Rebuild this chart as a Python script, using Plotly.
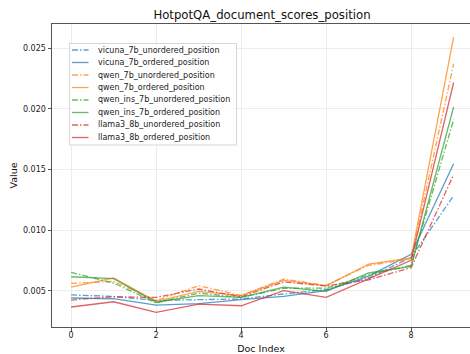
import plotly.graph_objects as go

doc_index = list(range(10))
series_names = [
    "vicuna_7b_unordered_position",
    "vicuna_7b_ordered_position",
    "qwen_7b_unordered_position",
    "qwen_7b_ordered_position",
    "qwen_ins_7b_unordered_position",
    "qwen_ins_7b_ordered_position",
    "llama3_8b_unordered_position",
    "llama3_8b_ordered_position",
]
vicuna_unordered = [0.00465, 0.00453, 0.00420, 0.00426, 0.00432, 0.00473, 0.00510, 0.00605, 0.00775, 0.01283]
vicuna_ordered = [0.00440, 0.00434, 0.00382, 0.00393, 0.00426, 0.00453, 0.00500, 0.00620, 0.00800, 0.01547]
qwen_unordered = [0.00560, 0.00577, 0.00420, 0.00541, 0.00461, 0.00596, 0.00544, 0.00710, 0.00760, 0.02370]
qwen_ordered = [0.00530, 0.00605, 0.00412, 0.00494, 0.00459, 0.00585, 0.00540, 0.00720, 0.00770, 0.02590]
qwen_ins_unordered = [0.00651, 0.00563, 0.00400, 0.00480, 0.00445, 0.00520, 0.00522, 0.00630, 0.00710, 0.01910]
qwen_ins_ordered = [0.00615, 0.00600, 0.00405, 0.00459, 0.00445, 0.00530, 0.00494, 0.00646, 0.00700, 0.02014]
llama_unordered = [0.00423, 0.00450, 0.00445, 0.00514, 0.00450, 0.00572, 0.00540, 0.00590, 0.00690, 0.01456]
llama_ordered = [0.00366, 0.00409, 0.00321, 0.00390, 0.00376, 0.00500, 0.00445, 0.00600, 0.00750, 0.02216]

series_values = [vicuna_unordered, vicuna_ordered, qwen_unordered, qwen_ordered,
                 qwen_ins_unordered, qwen_ins_ordered, llama_unordered, llama_ordered]
colors = ["#1f77b4", "#1f77b4", "#ff7f0e", "#ff7f0e", "#2ca02c", "#2ca02c", "#d62728", "#d62728"]
x_ticks = [0, 2, 4, 6, 8]
y_ticks = [0.005, 0.010, 0.015, 0.020, 0.025]

DASHDOT = "6px,2px,1.5px,2px"

def rgba(h, a):
    h = h.lstrip("#")
    return "rgba(%d,%d,%d,%s)" % (int(h[0:2], 16), int(h[2:4], 16), int(h[4:6], 16), a)

fig = go.Figure()
for name, vals, col in zip(series_names, series_values, colors):
    unordered = "unordered" in name
    fig.add_trace(go.Scatter(
        x=doc_index, y=vals, mode="lines", name=name, showlegend=False,
        line=dict(color=rgba(col, 0.72), width=1.3, dash=DASHDOT if unordered else "solid"),
    ))

W, H = 470, 354
L, R, T, B = 52, 0, 24, 27
font = "DejaVu Sans"

# custom legend (pixel -> paper coords)
pw, ph = W - L - R, H - T - B
def px(x):
    return (x - L) / pw
def py(y):
    return 1 - (y - T) / ph

shapes = [dict(type="rect", xref="paper", yref="paper",
               x0=px(69.5), x1=px(236.5), y0=py(43.5), y1=py(145),
               line=dict(color="#d6d6d6", width=1), fillcolor="rgba(255,255,255,0.85)", layer="above")]
annotations = []
for i, (name, col) in enumerate(zip(series_names, colors)):
    yy = 50 + i * 12.5
    unordered = "unordered" in name
    shapes.append(dict(type="line", xref="paper", yref="paper",
                       x0=px(72), x1=px(88.5), y0=py(yy), y1=py(yy), layer="above",
                       line=dict(color=rgba(col, 0.72), width=1.3, dash=DASHDOT if unordered else "solid")))
    annotations.append(dict(xref="paper", yref="paper", x=px(95.5), y=py(yy), text=name,
                            showarrow=False, xanchor="left", yanchor="middle",
                            font=dict(family=font, size=8, color="#222")))

fig.update_layout(
    width=W, height=H, margin=dict(l=L, r=R, t=T, b=B),
    paper_bgcolor="white", plot_bgcolor="white",
    font=dict(family=font, color="#222"),
    title=dict(text="HotpotQA_document_scores_position", x=(262) / W, xanchor="center",
               y=1 - 15 / H, yanchor="middle", font=dict(family=font, size=11.7, color="#111")),
    shapes=shapes, annotations=annotations,
    xaxis=dict(range=[-0.45, -0.45 + (W - L - R) / 42.5], tickvals=x_ticks, ticktext=[str(v) for v in x_ticks],
               showgrid=True, gridcolor="#ececec", gridwidth=1, zeroline=False,
               showline=True, linecolor="#555", linewidth=1, mirror=True,
               ticks="outside", ticklen=3.5, tickcolor="#555", tickfont=dict(size=8, family=font, color="#222"),
               ticklabelstandoff=-3,
               title=dict(text="Doc Index", font=dict(size=9.5, family=font, color="#111"), standoff=6)),
    yaxis=dict(range=[0.00201, 0.02698], tickvals=y_ticks, ticktext=["%.3f" % v for v in y_ticks],
               showgrid=True, gridcolor="#ececec", gridwidth=1, zeroline=False,
               showline=True, linecolor="#555", linewidth=1, mirror=False,
               ticks="outside", ticklen=3.5, tickcolor="#555", tickfont=dict(size=8, family=font, color="#222"),
               title=dict(text="Value", font=dict(size=9.5, family=font, color="#111"), standoff=3)),
)

fig.write_html("out.html")
